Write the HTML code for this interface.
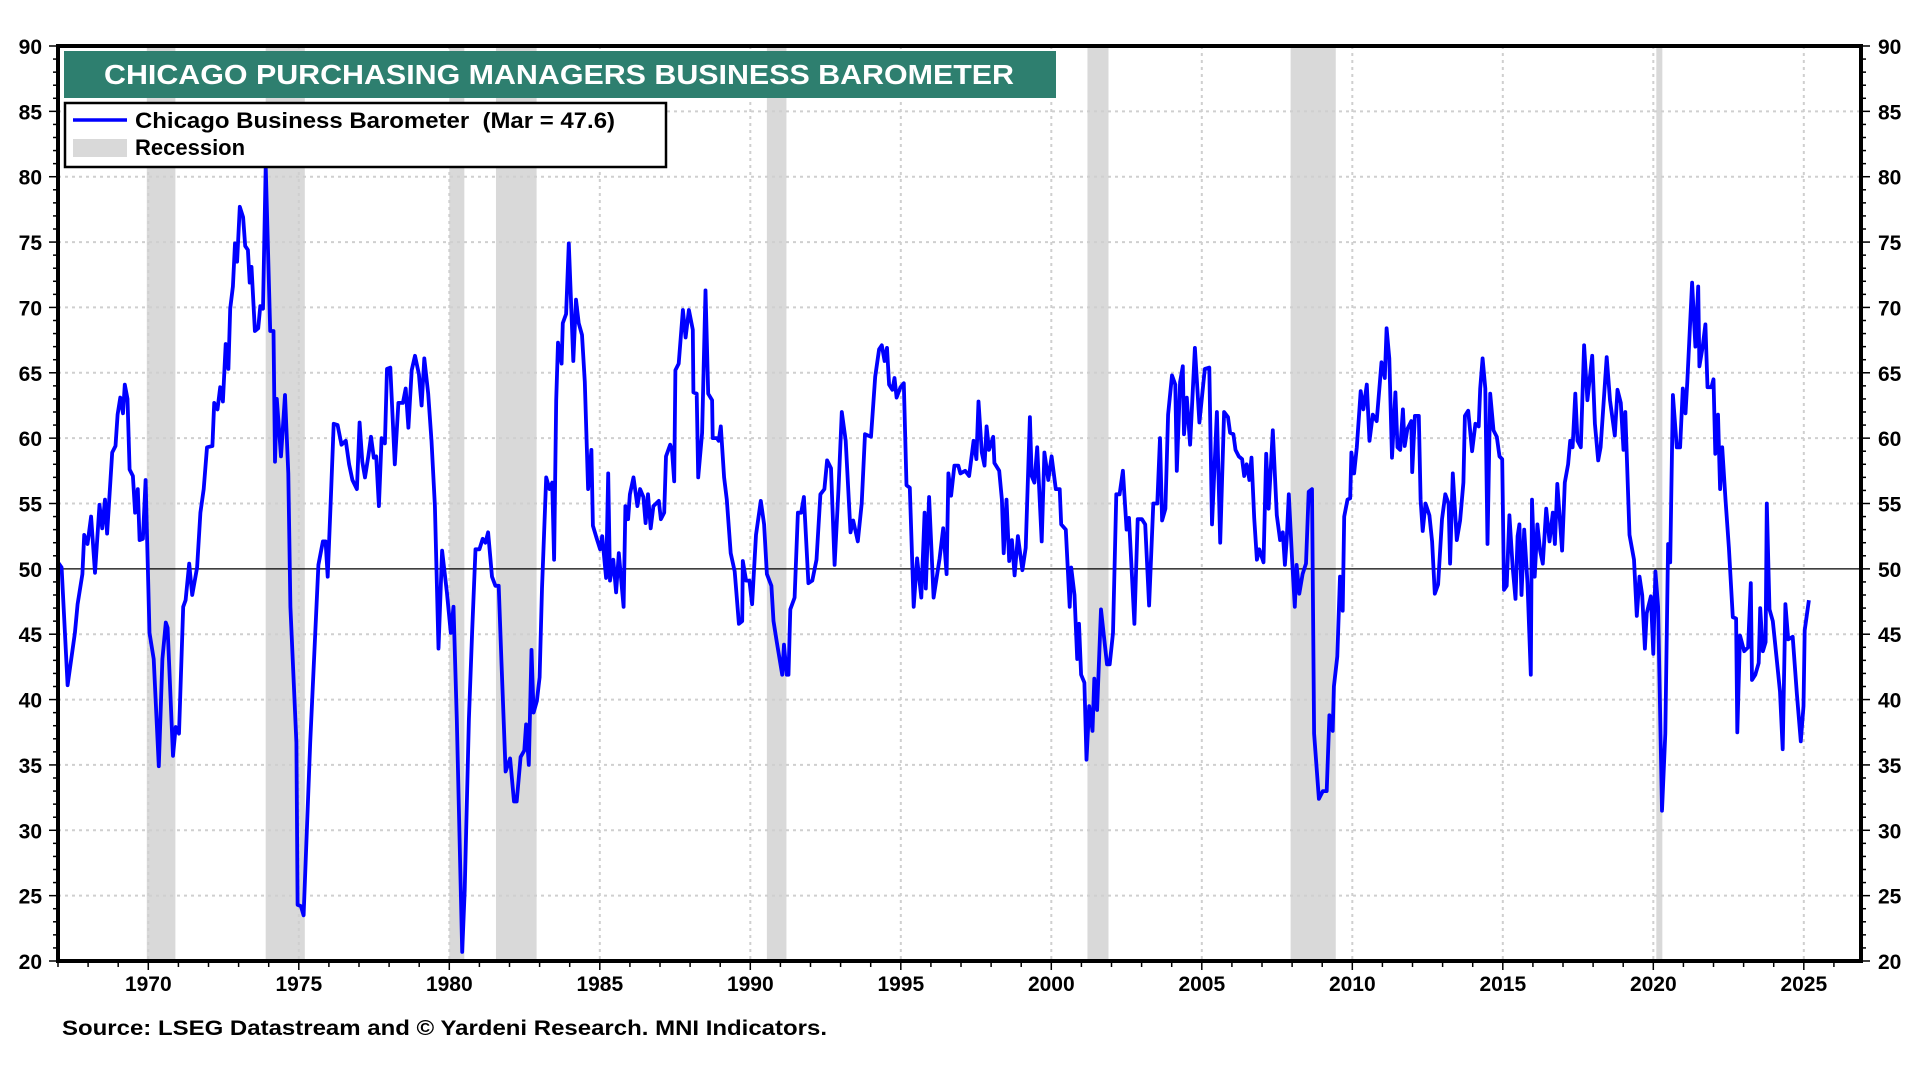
<!DOCTYPE html>
<html><head><meta charset="utf-8"><style>
html,body{margin:0;padding:0;background:#fff;}
svg{display:block;font-family:"Liberation Sans",Arial,sans-serif;}
</style></head><body>
<svg id="chart" width="1920" height="1080" viewBox="0 0 1920 1080" xmlns="http://www.w3.org/2000/svg">
<g id="recessions"></g>
<g id="grid"></g>
<g id="series"></g>
<g id="axes"></g>
<g>
<rect x="64" y="51" width="992" height="47" fill="#2e7f6f"/>
<text x="104" y="84" fill="#fff" font-size="28" font-weight="bold" textLength="910" lengthAdjust="spacingAndGlyphs">CHICAGO PURCHASING MANAGERS BUSINESS BAROMETER</text>
</g>
<g>
<rect x="65" y="103" width="601" height="64" fill="#fff" stroke="#000" stroke-width="2.5"/>
<g>
<line x1="73" y1="120" x2="127" y2="120" stroke="#0000ff" stroke-width="3.5"/>
<text x="135" y="128" font-size="22" font-weight="bold" xml:space="preserve" style="white-space:pre" textLength="480" lengthAdjust="spacingAndGlyphs">Chicago Business Barometer  (Mar = 47.6)</text>
</g>
<g>
<rect x="73" y="139" width="54" height="18" fill="#d9d9d9"/>
<text x="135" y="155" font-size="22" font-weight="bold">Recession</text>
</g>
</g>
<text x="62" y="1035" font-size="21" font-weight="bold" textLength="765" lengthAdjust="spacingAndGlyphs">Source: LSEG Datastream and © Yardeni Research. MNI Indicators.</text>
</svg>
<script>
const dates=[1967.0,1967.12,1967.32,1967.56,1967.65,1967.81,1967.87,1967.98,1968.1,1968.23,1968.38,1968.47,1968.56,1968.63,1968.8,1968.91,1968.98,1969.07,1969.16,1969.22,1969.31,1969.38,1969.49,1969.56,1969.65,1969.71,1969.82,1969.91,1970.04,1970.18,1970.35,1970.47,1970.58,1970.64,1970.82,1970.91,1971.02,1971.16,1971.24,1971.36,1971.46,1971.62,1971.73,1971.84,1971.95,1972.13,1972.19,1972.3,1972.39,1972.48,1972.57,1972.66,1972.72,1972.81,1972.88,1972.95,1973.04,1973.15,1973.22,1973.31,1973.37,1973.43,1973.54,1973.65,1973.72,1973.81,1973.9,1973.99,1974.05,1974.16,1974.21,1974.27,1974.41,1974.54,1974.65,1974.72,1974.92,1974.96,1975.07,1975.16,1975.38,1975.65,1975.8,1975.89,1975.96,1976.07,1976.16,1976.29,1976.42,1976.56,1976.67,1976.78,1976.93,1977.02,1977.11,1977.2,1977.31,1977.4,1977.49,1977.57,1977.66,1977.75,1977.86,1977.93,1978.04,1978.19,1978.31,1978.46,1978.55,1978.64,1978.75,1978.86,1978.99,1979.08,1979.17,
1979.3,1979.41,1979.52,1979.64,1979.76,1979.92,1980.05,1980.14,1980.25,1980.43,1980.51,1980.65,1980.76,1980.87,1981.0,1981.11,1981.2,1981.29,1981.42,1981.53,1981.64,1981.73,1981.87,1982.02,1982.15,1982.24,1982.37,1982.49,1982.55,1982.64,1982.73,1982.8,1982.91,1983.0,1983.08,1983.22,1983.33,1983.42,1983.48,1983.55,1983.61,1983.73,1983.77,1983.88,1983.97,1984.12,1984.21,1984.3,1984.41,1984.5,1984.61,1984.72,1984.77,1984.9,1985.01,1985.08,1985.21,1985.28,1985.34,1985.45,1985.54,1985.63,1985.79,1985.85,1985.94,1986.0,1986.12,1986.25,1986.34,1986.45,1986.52,1986.6,1986.69,1986.78,1986.96,1987.03,1987.14,1987.2,1987.34,1987.4,1987.47,1987.51,1987.62,1987.76,1987.85,1987.96,1988.09,1988.11,1988.22,1988.27,1988.4,1988.51,1988.6,1988.73,1988.75,1988.89,1988.95,1989.02,1989.13,1989.22,1989.35,1989.48,1989.62,1989.73,1989.75,1989.86,1989.97,1990.06,1990.19,1990.35,1990.46,1990.55,1990.7,1990.77,1990.88,1991.06,1991.12,1991.21,
1991.27,1991.33,1991.47,1991.58,1991.69,1991.78,1991.93,1992.06,1992.2,1992.33,1992.46,1992.55,1992.68,1992.8,1992.93,1993.04,1993.17,1993.33,1993.42,1993.57,1993.7,1993.81,1994.01,1994.15,1994.28,1994.37,1994.46,1994.54,1994.61,1994.72,1994.79,1994.86,1994.99,1995.1,1995.19,1995.3,1995.43,1995.54,1995.68,1995.79,1995.83,1995.94,1996.09,1996.29,1996.41,1996.52,1996.58,1996.67,1996.78,1996.91,1996.98,1997.14,1997.27,1997.42,1997.51,1997.58,1997.69,1997.78,1997.85,1997.93,1998.07,1998.11,1998.27,1998.36,1998.42,1998.51,1998.6,1998.69,1998.78,1998.89,1999.04,1999.15,1999.29,1999.35,1999.44,1999.53,1999.68,1999.77,1999.9,2000.01,2000.15,2000.28,2000.33,2000.48,2000.61,2000.66,2000.77,2000.86,2000.92,2000.99,2001.1,2001.17,2001.26,2001.37,2001.43,2001.52,2001.65,2001.85,2001.94,2002.05,2002.16,2002.27,2002.38,2002.5,2002.58,2002.76,2002.87,2003.01,2003.12,2003.25,
2003.39,2003.52,2003.61,2003.68,2003.79,2003.88,2004.01,2004.12,2004.17,2004.28,2004.37,2004.41,2004.5,2004.61,2004.77,2004.92,2005.1,2005.25,2005.34,2005.5,2005.61,2005.74,2005.87,2005.94,2006.05,2006.12,2006.23,2006.34,2006.41,2006.49,2006.58,2006.65,2006.74,2006.83,2006.91,2007.05,2007.14,2007.22,2007.36,2007.49,2007.6,2007.69,2007.76,2007.82,2007.89,2008.0,2008.09,2008.15,2008.24,2008.35,2008.46,2008.55,2008.66,2008.73,2008.89,2009.02,2009.15,2009.24,2009.35,2009.39,2009.5,2009.59,2009.68,2009.73,2009.84,2009.93,2009.97,2010.06,2010.15,2010.28,2010.37,2010.48,2010.57,2010.68,2010.81,2010.97,2011.08,2011.14,2011.23,2011.32,2011.43,2011.5,2011.59,2011.68,2011.74,2011.83,2011.96,2011.99,2012.08,2012.21,2012.27,2012.34,2012.43,2012.56,2012.65,2012.74,2012.85,2012.98,2013.09,2013.2,2013.25,2013.34,2013.47,2013.58,2013.69,2013.74,2013.85,2013.98,2014.09,2014.2,2014.25,2014.33,2014.42,2014.49,2014.58,2014.69,2014.8,2014.89,2014.98,2015.04,2015.13,2015.22,2015.33,2015.42,2015.49,2015.55,
2015.62,2015.71,2015.82,2015.93,2015.97,2016.06,2016.15,2016.24,2016.33,2016.44,2016.55,2016.66,2016.73,2016.81,2016.97,2017.06,2017.17,2017.24,2017.32,2017.41,2017.48,2017.59,2017.7,2017.81,2017.97,2018.06,2018.17,2018.25,2018.45,2018.56,2018.72,2018.81,2018.92,2019.01,2019.07,2019.21,2019.36,2019.45,2019.54,2019.63,2019.72,2019.78,2019.92,2020.0,2020.07,2020.16,2020.29,2020.4,2020.49,2020.56,2020.65,2020.78,2020.89,2020.98,2021.07,2021.13,2021.29,2021.4,2021.49,2021.53,2021.64,2021.73,2021.8,2021.93,2022.0,2022.06,2022.15,2022.22,2022.29,2022.4,2022.51,2022.64,2022.75,2022.79,2022.88,2023.02,2023.15,2023.24,2023.28,2023.39,2023.5,2023.55,2023.64,2023.73,2023.77,2023.86,2023.97,2024.1,2024.21,2024.3,2024.39,2024.48,2024.63,2024.77,2024.9,2024.99,2025.03,2025.17];
const values=[50.5,50.1,41.1,45.1,47.3,49.6,52.6,51.9,54,49.7,54.9,53.1,55.3,52.7,58.9,59.4,61.8,63.1,61.9,64.1,63,57.6,57.1,54.3,56.1,52.2,52.3,56.8,45.1,43.1,34.9,43.1,45.9,45.5,35.7,37.9,37.4,47.1,47.6,50.4,48,50.1,54.3,56.1,59.3,59.4,62.7,62.2,63.9,62.8,67.2,65.3,69.9,71.6,74.9,73.5,77.7,76.9,74.7,74.4,71.9,73.1,68.2,68.4,70.1,69.9,80.8,73.3,68.2,68.2,58.2,63,58.6,63.3,57.3,47.1,36.7,24.3,24.2,23.5,36.7,50.3,52.1,52.1,49.4,55.7,61.1,61,59.5,59.8,58,56.8,56.1,61.2,58.2,57,58.6,60.1,58.5,58.6,54.8,60,59.6,65.3,65.4,58,62.7,62.7,63.8,60.8,65.2,66.3,64.9,62.5,66.1,
63.4,59.8,54.8,43.9,51.4,48.2,45.1,47.1,38.5,20.7,25.4,38.5,45.3,51.5,51.5,52.3,52,52.8,49.4,48.7,48.7,43,34.5,35.5,32.2,32.2,35.6,36.1,38.1,35,43.8,39,39.9,41.7,48.5,57,56.1,56.6,50.7,62.9,67.3,65.7,68.8,69.5,74.9,65.9,70.6,68.8,67.9,64.3,56.1,59.1,53.3,52.3,51.5,52.5,49.3,57.3,49.1,50.7,48.2,51.2,47.1,54.8,53.8,55.7,57,54.8,56.1,55.5,53.5,55.7,53.1,54.8,55.2,53.8,54.3,58.6,59.5,59.1,56.7,65.2,65.7,69.8,67.7,69.8,68.3,63.5,63.4,57,60.4,71.3,63.4,62.9,60,60,59.8,60.9,57,55.3,51.2,49.8,45.8,46,50.6,49.1,49.1,47.3,52.6,55.2,53.4,49.6,48.7,46,44.4,41.9,44.2,41.9,
41.9,46.9,47.8,54.3,54.3,55.5,48.9,49.1,50.7,55.7,56.1,58.3,57.7,50.3,56.1,62,59.8,52.8,53.7,52.1,55,60.3,60.1,64.7,66.8,67.1,65.9,66.9,64.1,63.7,64.6,63.1,63.9,64.2,56.4,56.2,47.1,50.8,47.8,54.3,48.5,55.5,47.8,50.8,53.1,49.6,57.3,55.6,57.9,57.9,57.3,57.5,57.1,59.8,58.4,62.8,58.9,57.9,60.9,59.1,60.1,58.1,57.5,55.3,51.2,55.3,50.6,52.2,49.5,52.5,49.9,51.6,61.6,57.1,56.6,59.3,52.1,58.9,56.8,58.6,56.1,56.1,53.4,53,47.1,50.1,48,43.1,45.8,41.9,41.3,35.4,39.5,37.6,41.6,39.2,46.9,42.7,42.7,45.1,55.7,55.7,57.5,53,53.9,45.8,53.8,53.8,53.4,47.2,
55,55,60,53.7,54.6,61.8,64.8,64.1,57.5,64.3,65.5,60.3,63.1,59.5,66.9,61.2,65.3,65.4,53.4,62,52,62,61.6,60.4,60.3,59.1,58.6,58.4,57.1,58,56.8,58.5,53.9,50.7,51.5,50.5,58.8,54.6,60.6,54.1,52.2,52.8,50.3,52.2,55.7,50.7,47.1,50.3,48.1,49.6,50.4,55.9,56.1,37.4,32.4,33,33,38.8,37.6,41,43.3,49.4,46.8,54,55.3,55.4,58.9,57.3,59.3,63.6,62.2,64.1,59.8,61.8,61.3,65.8,64.6,68.4,66.1,58.5,63.5,59.3,59.1,62.2,59.4,60.7,61.3,57.4,61.7,61.7,55.3,52.9,55,54.1,52.1,48.1,48.8,53.8,55.7,55,50.4,57.3,52.2,53.7,56.6,61.7,62.1,59,61.1,60.9,63.8,66.1,63.8,51.9,63.4,60.6,60.1,58.6,58.4,48.4,48.7,54.1,50.1,47.7,52.5,53.4,
48,53,48.9,41.9,55.3,49.4,53.4,51.4,50.4,54.6,52.1,54.3,51.9,56.5,51.4,56.6,58,59.8,59.3,63.4,59.8,59.3,67.1,62.9,66.3,61.1,58.3,59.3,66.2,62.9,60.2,63.7,62.7,59.1,62,52.6,50.7,46.4,49.4,48,43.9,46.6,47.9,43.5,49.8,47.1,31.5,37.4,51.9,50.5,63.3,59.3,59.3,63.8,61.9,64.3,71.9,67,71.6,65.5,67,68.7,63.9,63.9,64.5,58.8,61.8,56.1,59.3,55.3,51.6,46.3,46.2,37.5,44.9,43.7,44,48.9,41.5,41.9,42.8,47,43.7,44.4,55,46.9,46,43.1,40.6,36.2,47.3,44.6,44.8,40.4,36.8,39.5,45.3,47.6];
const recStarts=[1969.95,1973.9,1980.0,1981.55,1990.55,2001.2,2007.95,2020.1];
const recEnds=[1970.9,1975.2,1980.5,1982.9,1991.2,2001.9,2009.45,2020.3];
const yTicks=[20,25,30,35,40,45,50,55,60,65,70,75,80,85,90];
const xTicks=[1970,1975,1980,1985,1990,1995,2000,2005,2010,2015,2020,2025];

const NS="http://www.w3.org/2000/svg";
const L=58,R=1861,T=46,B=961,X0=1967.0,X1=2026.9,Y0=20,Y1=90;
function sx(v){return L+(v-X0)/(X1-X0)*(R-L);}
function sy(v){return B-(v-Y0)/(Y1-Y0)*(B-T);}
function mk(tag,attrs,parent){const e=document.createElementNS(NS,tag);for(const k in attrs)e.setAttribute(k,attrs[k]);parent.appendChild(e);return e;}

const gRec=document.getElementById('recessions');
recStarts.forEach((s,i)=>{
  const r=mk('rect',{x:sx(s),y:T,width:sx(recEnds[i])-sx(s),height:B-T,fill:'#d9d9d9'},gRec);
  
  
});
const gGrid=document.getElementById('grid');
yTicks.forEach(v=>{
  if(v===20||v===90)return;
  const ln=mk('line',{x1:L,x2:R,y1:sy(v),y2:sy(v),stroke:v===50?'#000':'#cfcfcf','stroke-width':v===50?1.3:2,'stroke-dasharray':v===50?'none':'3,4'},gGrid);
  
  
});
xTicks.forEach(v=>{
  const ln=mk('line',{x1:sx(v),x2:sx(v),y1:T,y2:B,stroke:'#cfcfcf','stroke-width':2,'stroke-dasharray':'3,4'},gGrid);
  
  
});
const gS=document.getElementById('series');
let d='';
dates.forEach((t,i)=>{d+=(i?'L':'M')+sx(t).toFixed(1)+','+sy(values[i]).toFixed(1);});
const path=mk('path',{d:d,fill:'none',stroke:'#0000ff','stroke-width':3.8,'stroke-linejoin':'round'},gS);



const gA=document.getElementById('axes');
const frame=mk('path',{d:`M${L},${T}H${R}V${B}H${L}Z`,fill:'none',stroke:'#000','stroke-width':4},gA);


for(let v=Y0;v<=Y1;v++){
  const maj=v%5===0;
  mk('line',{x1:L-(maj?9:5),x2:L,y1:sy(v),y2:sy(v),stroke:'#000','stroke-width':1.5},gA);
  mk('line',{x1:R,x2:R+(maj?9:5),y1:sy(v),y2:sy(v),stroke:'#000','stroke-width':1.5},gA);
}
yTicks.forEach(v=>{
  const a=mk('text',{x:42,y:sy(v)+8,'text-anchor':'end','font-size':21,'font-weight':'bold'},gA);
  a.textContent=v;
  
  
  const b=mk('text',{x:1878,y:sy(v)+8,'text-anchor':'start','font-size':21,'font-weight':'bold'},gA);
  b.textContent=v;
  
  
});
for(let y=1967;y<=2026;y++){
  const maj=y%5===0;
  mk('line',{x1:sx(y),x2:sx(y),y1:B,y2:B+(maj?9:6),stroke:'#000','stroke-width':1.5},gA);
}
xTicks.forEach(v=>{
  const t=mk('text',{x:sx(v),y:991,'text-anchor':'middle','font-size':21,'font-weight':'bold'},gA);
  t.textContent=v;
  
  
});
</script>
</body></html>
